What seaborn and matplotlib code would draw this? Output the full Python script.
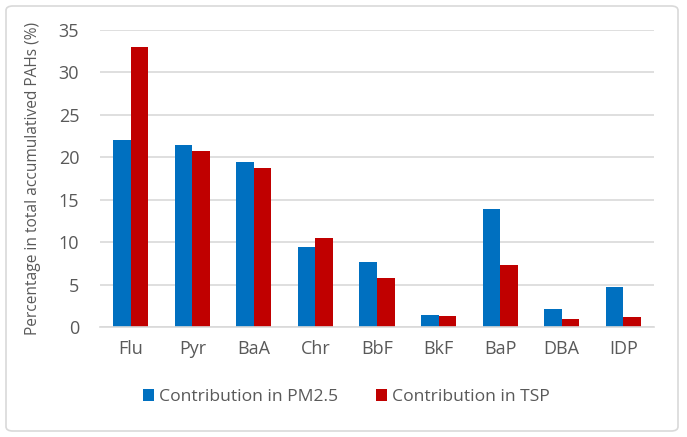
import pandas as pd
import matplotlib.pyplot as plt
import seaborn as sns
from matplotlib.patches import FancyBboxPatch

compounds = ["Flu", "Pyr", "BaA", "Chr", "BbF", "BkF", "BaP", "DBA", "IDP"]
pm25 = [22.1, 21.5, 19.5, 9.5, 7.7, 1.5, 13.9, 2.2, 4.7]
tsp = [33.0, 20.8, 18.7, 10.5, 5.8, 1.3, 7.3, 1.0, 1.2]
series_names = ["Contribution in PM2.5", "Contribution in TSP"]
colors = ["#0070C0", "#C00000"]

sns.set_style("white")
plt.rcParams["font.family"] = ["Open Sans", "DejaVu Sans"]

df = pd.DataFrame({
    "compound": compounds * 2,
    "value": pm25 + tsp,
    "series": [series_names[0]] * len(compounds) + [series_names[1]] * len(compounds),
})

fig = plt.figure(figsize=(6.87, 4.37), dpi=100)
ax = fig.add_axes([100 / 687, 1 - 327.3 / 437, 554 / 687, 297.3 / 437])

sns.barplot(data=df, x="compound", y="value", hue="series", palette=colors,
            width=0.57, gap=0, saturation=1, linewidth=0, ax=ax, legend=True)

ax.set_ylim(0, 35)
ax.set_yticks(range(0, 36, 5))
ax.set_xlim(-0.5, len(compounds) - 0.5)
ax.yaxis.grid(True, color="#D9D9D9", linewidth=1.2)
ax.set_axisbelow(True)
for s in ["top", "right", "left"]:
    ax.spines[s].set_visible(False)
ax.spines["bottom"].set_color("#D9D9D9")
ax.spines["bottom"].set_linewidth(1.2)
ax.tick_params(axis="both", length=0, labelsize=13, colors="#595959", pad=9)
ax.tick_params(axis="y", pad=15)
ax.set_xlabel("")
ax.set_ylabel("Percentage in total accumulatived PAHs (%)", fontsize=11.2,
              color="#595959", labelpad=13)

ax.legend(loc="upper center", bbox_to_anchor=(0.445, -0.155), ncol=2, frameon=False,
          fontsize=12.6, labelcolor="#595959", handlelength=0.6, handleheight=0.6,
          handletextpad=0.3, columnspacing=2.2)

border = FancyBboxPatch((6 / 687, 6 / 437), 672 / 687, 425 / 437,
                        boxstyle="round,pad=0,rounding_size=0.01",
                        transform=fig.transFigure, fill=False,
                        edgecolor="#D9D9D9", linewidth=1.2)
fig.patches.append(border)

fig.savefig("out.png", dpi=100)
